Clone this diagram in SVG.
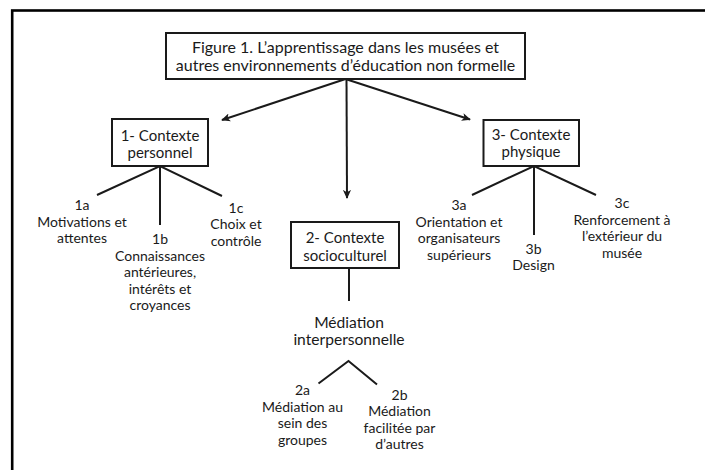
<svg xmlns="http://www.w3.org/2000/svg" width="705" height="470" viewBox="0 0 705 470">
<style>
.frame{fill:none;stroke:#000;stroke-width:2.6}
.box{fill:#fff;stroke:#1a1a1a;stroke-width:2}
.ln{fill:none;stroke:#1a1a1a;stroke-width:2}
.t{font-family:Lato,"Liberation Sans",sans-serif;fill:#1a1a1a;text-anchor:middle}
.tt{font-size:16px}
.tb{font-size:15px}
.tl{font-size:14px}
.tm{font-size:15.6px}
</style>
<defs>
<marker id="ah" viewBox="0 0 10 10" refX="9" refY="5" markerWidth="9" markerHeight="9" orient="auto" markerUnits="userSpaceOnUse">
<path d="M0,0.5 L10,5 L0,9.5 L2.5,5 z" fill="#1a1a1a"/>
</marker>
</defs>
<rect class="frame" x="12.2" y="10.5" width="730" height="500"/>
<g id="connectors">
<line class="ln" x1="345.5" y1="79" x2="222" y2="120" marker-end="url(#ah)"/>
<line class="ln" x1="346.5" y1="79" x2="347" y2="198" marker-end="url(#ah)"/>
<line class="ln" x1="345.5" y1="79" x2="470" y2="119.5" marker-end="url(#ah)"/>
<polyline class="ln" points="97,195 160,166 222,196"/>
<line class="ln" x1="160" y1="166" x2="160" y2="225"/>
<polyline class="ln" points="472,195 534,166 596,195"/>
<line class="ln" x1="534" y1="166" x2="534" y2="235"/>
<line class="ln" x1="349" y1="268" x2="349" y2="301"/>
<polyline class="ln" points="318.5,383.5 348.5,361 377,384.5"/>
</g>
<g id="title">
<rect class="box" x="166" y="33" width="359" height="46"/>
<text class="t tt" x="345.5" y="53">Figure 1. L’apprentissage dans les musées et</text>
<text class="t tt" x="345.5" y="71">autres environnements d’éducation non formelle</text>
</g>
<g id="ctx1">
<rect class="box" x="112" y="119" width="96" height="47"/>
<text class="t tb" x="160" y="140.5">1- Contexte</text>
<text class="t tb" x="160" y="157.5">personnel</text>
</g>
<g id="ctx2">
<rect class="box" x="291" y="222" width="108" height="46"/>
<text class="t tb" x="345" y="243">2- Contexte</text>
<text class="t tb" x="345" y="260.5">socioculturel</text>
</g>
<g id="ctx3">
<rect class="box" x="483.5" y="120" width="95.5" height="46"/>
<text class="t tb" x="531" y="139.5">3- Contexte</text>
<text class="t tb" x="531" y="157">physique</text>
</g>
<g id="n1a">
<text class="t tl" x="82" y="210">1a</text>
<text class="t tl" x="82" y="226.5">Motivations et</text>
<text class="t tl" x="82" y="243">attentes</text>
</g>
<g id="n1b">
<text class="t tl" x="160" y="244">1b</text>
<text class="t tl" x="160" y="260.5">Connaissances</text>
<text class="t tl" x="160" y="277">antérieures,</text>
<text class="t tl" x="160" y="293.5">intérêts et</text>
<text class="t tl" x="160" y="310">croyances</text>
</g>
<g id="n1c">
<text class="t tl" x="236" y="212.5">1c</text>
<text class="t tl" x="236" y="229">Choix et</text>
<text class="t tl" x="236" y="245.5">contrôle</text>
</g>
<g id="n3a">
<text class="t tl" x="459" y="210">3a</text>
<text class="t tl" x="459" y="226.5">Orientation et</text>
<text class="t tl" x="459" y="243">organisateurs</text>
<text class="t tl" x="459" y="259.5">supérieurs</text>
</g>
<g id="n3b">
<text class="t tl" x="533.5" y="253.5">3b</text>
<text class="t tl" x="533.5" y="270">Design</text>
</g>
<g id="n3c">
<text class="t tl" x="622" y="208">3c</text>
<text class="t tl" x="622" y="224.5">Renforcement à</text>
<text class="t tl" x="622" y="241">l’extérieur du</text>
<text class="t tl" x="622" y="257.5">musée</text>
</g>
<g id="mediation">
<text class="t tm" x="349" y="327.5">Médiation</text>
<text class="t tm" x="349" y="345">interpersonnelle</text>
</g>
<g id="n2a">
<text class="t tl" x="302.5" y="395">2a</text>
<text class="t tl" x="302.5" y="411.5">Médiation au</text>
<text class="t tl" x="302.5" y="428">sein des</text>
<text class="t tl" x="302.5" y="444.5">groupes</text>
</g>
<g id="n2b">
<text class="t tl" x="399.5" y="399.5">2b</text>
<text class="t tl" x="399.5" y="416">Médiation</text>
<text class="t tl" x="399.5" y="432.5">facilitée par</text>
<text class="t tl" x="399.5" y="449">d’autres</text>
</g>
</svg>
